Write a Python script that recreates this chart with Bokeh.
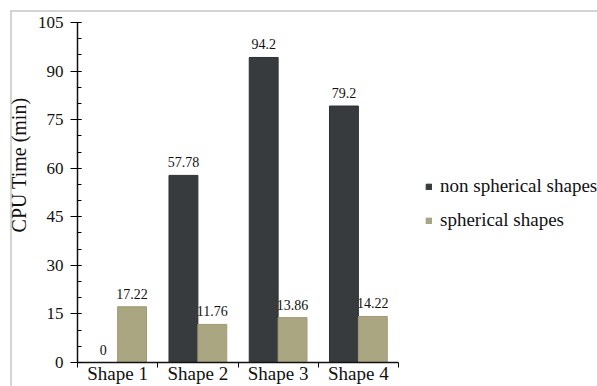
from bokeh.plotting import figure
from bokeh.models import ColumnDataSource, FixedTicker, Range1d, Legend, LegendItem
from bokeh.core.properties import value
from bokeh.embed import file_html
from bokeh.resources import INLINE

categories = ["Shape 1", "Shape 2", "Shape 3", "Shape 4"]
non_spherical = [0, 57.78, 94.2, 79.2]
spherical = [17.22, 11.76, 13.86, 14.22]
series_names = ["non spherical shapes", "spherical shapes"]
y_ticks = [0, 15, 30, 45, 60, 75, 90, 105]
y_title = "CPU Time (min)"

DARK = "#383b3e"
LIGHT = "#aba682"
FONT = "Liberation Serif"

W, H = 597, 386
LEFT, TOP, BOTTOM = 77, 22, 24
AXIS_PX = 321            # pixel length of the category axis
frame_w = W - LEFT
n = len(categories)
x_end = n * frame_w / AXIS_PX

bar_w = 0.36
idx = list(range(n))
x_dark = [i + 0.5 - bar_w / 2 for i in idx]
x_light = [i + 0.5 + bar_w / 2 for i in idx]

src_dark = ColumnDataSource(dict(x=x_dark, top=non_spherical,
                                 lab=[f"{v:g}" for v in non_spherical]))
src_light = ColumnDataSource(dict(x=x_light, top=spherical,
                                  lab=[f"{v:g}" for v in spherical]))

GRAY = "#d4d4d4"
bg = (f"linear-gradient({GRAY},{GRAY}) 10px 10px / 2px 100% no-repeat, "
      f"linear-gradient({GRAY},{GRAY}) 10px 10px / 100% 2px no-repeat, white")

p = figure(width=W, height=H, output_backend="svg", toolbar_location=None,
           x_range=Range1d(0, x_end), y_range=Range1d(0, 105),
           min_border_left=LEFT, min_border_right=0, min_border_top=TOP,
           min_border_bottom=BOTTOM, styles={"background": bg})
p.outline_line_color = None
p.grid.grid_line_color = None
p.background_fill_color = "white"
p.border_fill_alpha = 0

r1 = p.vbar(x="x", top="top", width=bar_w, source=src_dark,
            fill_color=DARK, line_color="#2e3133", line_width=1)
r2 = p.vbar(x="x", top="top", width=bar_w, source=src_light,
            fill_color=LIGHT, line_color="#a09b76", line_width=1)

for src in (src_dark, src_light):
    p.text(x="x", y="top", text="lab", source=src, text_align="center",
           text_baseline="alphabetic", y_offset=-13,
           text_font=value(FONT), text_font_size="14px", text_color="#111111")

# Y axis
p.yaxis.ticker = FixedTicker(ticks=y_ticks, minor_ticks=list(range(0, 106, 5)))
p.yaxis.major_tick_in = 4
p.yaxis.major_tick_out = 7
p.yaxis.minor_tick_in = 4
p.yaxis.minor_tick_out = 0
p.yaxis.major_label_standoff = 7
# leading non-breaking spaces move the centred title up, as in the reference
p.yaxis.axis_label = "\u00a0" * 11 + y_title
p.yaxis.axis_label_text_font = FONT
p.yaxis.axis_label_text_font_style = "normal"
p.yaxis.axis_label_text_font_size = "20px"
p.yaxis.axis_label_standoff = 5
p.yaxis.major_label_text_font = FONT
p.yaxis.major_label_text_font_size = "17px"

# X axis: labels at centers, ticks at boundaries
p.xaxis.bounds = (0, n)
p.xaxis.ticker = FixedTicker(ticks=[i + 0.5 for i in idx],
                             minor_ticks=list(range(n + 1)))
p.xaxis.major_label_overrides = {i + 0.5: c for i, c in zip(idx, categories)}
p.xaxis.major_tick_line_color = None
p.xaxis.minor_tick_in = 0
p.xaxis.minor_tick_out = 5
p.xaxis.major_label_standoff = -6
p.xaxis.major_label_text_font = FONT
p.xaxis.major_label_text_font_size = "19px"

for ax in (p.xaxis, p.yaxis):
    ax.axis_line_color = "#111111"
    ax.axis_line_width = 1.5
    ax.major_label_text_color = "#111111"
    ax.axis_label_text_color = "#111111"

legend = Legend(items=[LegendItem(label=series_names[0], renderers=[r1]),
                       LegendItem(label=series_names[1], renderers=[r2])],
                location=(348, 131), glyph_width=7, glyph_height=7,
                label_standoff=8, spacing=12, padding=0, margin=0,
                border_line_color=None, background_fill_alpha=0,
                label_text_font=FONT, label_text_font_size="19px",
                label_text_color="#111111")
p.add_layout(legend, "center")

open("out.html", "w").write(file_html(p, INLINE))
